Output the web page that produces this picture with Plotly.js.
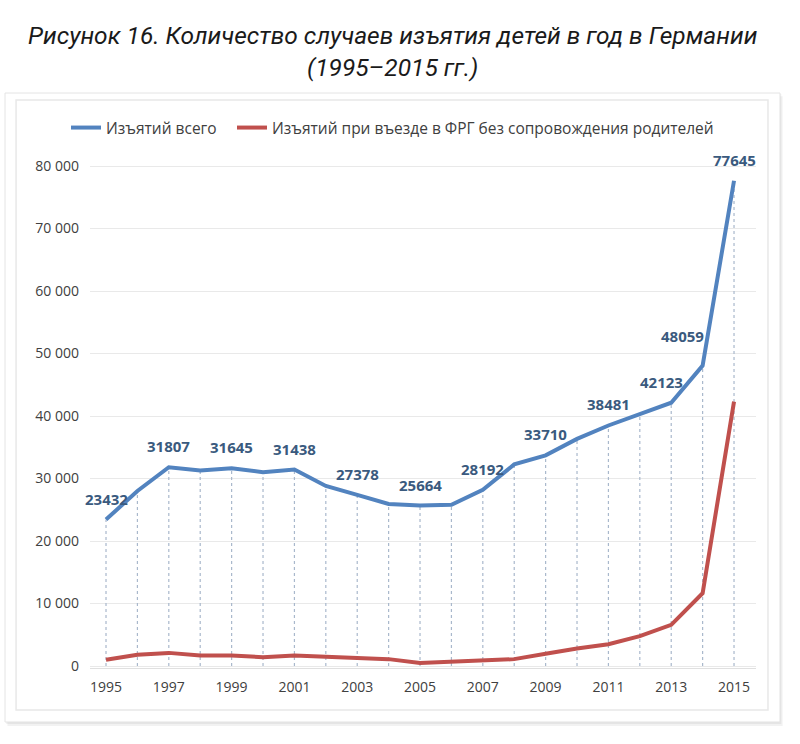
<!DOCTYPE html>
<html>
<head>
<meta charset="utf-8">
<script src="https://cdn.plot.ly/plotly-3.0.1.min.js"></script>
<style>
  html, body { margin: 0; padding: 0; background: #ffffff; }
  #chart { width: 800px; height: 744px; }
</style>
</head>
<body>
<div id="chart"></div>
<script>
// ---- data ----
const years = [1995,1996,1997,1998,1999,2000,2001,2002,2003,2004,2005,2006,2007,2008,2009,2010,2011,2012,2013,2014,2015];
const totalSeizures = [23432,28000,31807,31300,31645,31000,31438,28800,27378,25916,25664,25790,28192,32253,33710,36343,38481,40227,42123,48059,77645];
const unaccompanied = [1000,1800,2100,1700,1700,1400,1700,1500,1300,1100,500,700,900,1100,1950,2800,3480,4770,6580,11640,42310];
const labeledYears = [1995,1997,1999,2001,2003,2005,2007,2009,2011,2013,2014,2015];
const seriesNames = ['Изъятий всего', 'Изъятий при въезде в ФРГ без сопровождения родителей'];
const titleLines = ['Рисунок 16. Количество случаев изъятия детей в год в Германии', '(1995–2015 гг.)'];
const xTickVals = [1995,1997,1999,2001,2003,2005,2007,2009,2011,2013,2015];

// ---- drop lines built from data ----
const dropX = [], dropY = [];
years.forEach((yr, i) => { dropX.push(yr, yr, null); dropY.push(0, totalSeizures[i], null); });

const BLUE = '#5283bf';
const RED = '#c0504d';

const traces = [
  { x: dropX, y: dropY, mode: 'lines', showlegend: false, hoverinfo: 'skip',
    line: { color: '#a9b8cc', width: 1.2, dash: 'dot' } },
  { x: years, y: totalSeizures, name: seriesNames[0], mode: 'lines', legend: 'legend',
    line: { color: BLUE, width: 4 } },
  { x: years, y: unaccompanied, name: seriesNames[1], mode: 'lines', legend: 'legend2',
    line: { color: RED, width: 4 } }
];

// label offsets (styling only)
const labelShift = { 2013: [-10, 21], 2014: [-20, 30] };
const annotations = labeledYears.map(yr => {
  const v = totalSeizures[years.indexOf(yr)];
  const s = labelShift[yr] || [0, 21];
  return { x: yr, y: v, text: String(v), showarrow: false, xshift: s[0], yshift: s[1],
           font: { family: 'Open Sans, sans-serif', size: 15, color: '#3a5a7e', weight: 'bold' } };
});

// title as annotation lines
annotations.push({
  xref: 'paper', yref: 'paper', x: 0.454, y: 1.19, xanchor: 'center', yanchor: 'middle',
  showarrow: false, text: '<i>' + titleLines[0] + '<br>' + titleLines[1] + '</i>',
  font: { family: 'Roboto, sans-serif', size: 24.5, color: '#1a1a1a' }
});

const shapes = [
  // shadow
  { type: 'rect', xref: 'paper', yref: 'paper', x0: -0.124, x1: 1.040, y0: -0.112, y1: 1.104,
    line: { width: 0 }, fillcolor: 'rgba(0,0,0,0.05)', layer: 'below' },
  { type: 'rect', xref: 'paper', yref: 'paper', x0: -0.126, x1: 1.038, y0: -0.108, y1: 1.108,
    line: { width: 0 }, fillcolor: 'rgba(0,0,0,0.05)', layer: 'below' },
  // card
  { type: 'rect', xref: 'paper', yref: 'paper', x0: -0.1276, x1: 1.036, y0: -0.1042, y1: 1.110,
    line: { color: '#e4e4e4', width: 1 }, fillcolor: '#ffffff', layer: 'below' },
  // inner chart border
  { type: 'rect', xref: 'paper', yref: 'paper', x0: -0.111, x1: 1.018, y0: -0.0811, y1: 1.0965,
    line: { color: '#e8e8e8', width: 1.5 }, fillcolor: 'rgba(0,0,0,0)', layer: 'below' }
];

const legendFont = { family: 'Open Sans, sans-serif', size: 15.5, color: '#404040' };

const layout = {
  width: 800, height: 744,
  margin: { l: 90, r: 44, t: 150, b: 76 },
  paper_bgcolor: '#ffffff', plot_bgcolor: 'rgba(0,0,0,0)',
  separators: ', ',
  showlegend: true,
  legend: { orientation: 'h', x: -0.036, xanchor: 'left', y: 1.0425, yanchor: 'middle',
            font: legendFont, bgcolor: 'rgba(0,0,0,0)', itemwidth: 30 },
  legend2: { orientation: 'h', x: 0.2132, xanchor: 'left', y: 1.0425, yanchor: 'middle',
            font: legendFont, bgcolor: 'rgba(0,0,0,0)', itemwidth: 30 },
  xaxis: { range: [1994.49, 2015.70], tickvals: xTickVals, showgrid: false, zeroline: false,
           showline: true, linecolor: '#e0e0e0', linewidth: 1, ticks: '',
           tickfont: { family: 'Open Sans, sans-serif', size: 14, color: '#404040' },
           ticklabelstandoff: 6 },
  yaxis: { range: [-320, 82560], dtick: 10000, tickformat: ',d', showgrid: true,
           gridcolor: '#e9e9e9', gridwidth: 1, zeroline: false, ticks: '',
           tickfont: { family: 'Open Sans, sans-serif', size: 14, color: '#404040' },
           ticklabelstandoff: 10 },
  annotations: annotations,
  shapes: shapes
};

Plotly.newPlot('chart', traces, layout, { displayModeBar: false, staticPlot: true });
</script>
</body>
</html>
